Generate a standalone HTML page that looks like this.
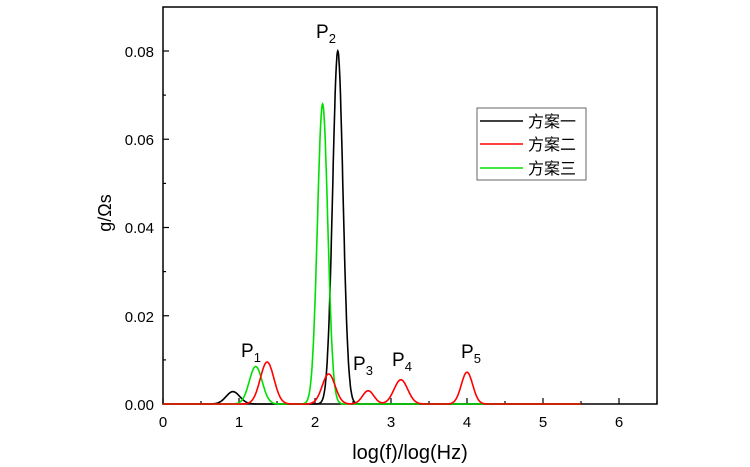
<!DOCTYPE html>
<html><head><meta charset="utf-8"><style>
body{margin:0;background:#fff}
svg{display:block}
text{font-family:"Liberation Sans",sans-serif;fill:#000}
</style></head><body>
<svg id="s" width="750" height="467" xmlns="http://www.w3.org/2000/svg">
<rect x="163" y="7" width="494" height="397" fill="none" stroke="#000" stroke-width="1.5"/>
<g stroke="#000" stroke-width="1.2">
<line x1="163" y1="404" x2="169" y2="404"/><line x1="163" y1="315.75" x2="169" y2="315.75"/>
<line x1="163" y1="227.5" x2="169" y2="227.5"/><line x1="163" y1="139.25" x2="169" y2="139.25"/>
<line x1="163" y1="51" x2="169" y2="51"/>
<line x1="163" y1="359.9" x2="166" y2="359.9"/><line x1="163" y1="271.6" x2="166" y2="271.6"/>
<line x1="163" y1="183.4" x2="166" y2="183.4"/><line x1="163" y1="95.1" x2="166" y2="95.1"/>
</g>
<g id="xt" stroke="#000" stroke-width="1.2"></g>
<g font-size="15" text-anchor="end">
<text x="154" y="410">0.00</text><text x="154" y="322">0.02</text><text x="154" y="233">0.04</text>
<text x="154" y="145">0.06</text><text x="154" y="57">0.08</text>
</g>
<g font-size="15" text-anchor="middle">
<text x="163" y="427">0</text><text x="239" y="427">1</text><text x="315" y="427">2</text>
<text x="391" y="427">3</text><text x="467" y="427">4</text><text x="543" y="427">5</text><text x="619" y="427">6</text>
</g>
<text x="410" y="459" font-size="20" text-anchor="middle">log(f)/log(Hz)</text>
<text transform="translate(111,213) rotate(-90)" font-size="18" text-anchor="middle">g/Ωs</text>
<g font-size="19">
<text x="241" y="357">P<tspan font-size="13" dy="5">1</tspan></text>
<text x="316" y="38">P<tspan font-size="13" dy="5">2</tspan></text>
<text x="353" y="370">P<tspan font-size="13" dy="5">3</tspan></text>
<text x="392" y="366">P<tspan font-size="13" dy="5">4</tspan></text>
<text x="461" y="358">P<tspan font-size="13" dy="5">5</tspan></text>
</g>
<path id="k" fill="none" stroke="#000" stroke-width="1.6"/>
<path id="g" fill="none" stroke="#00e000" stroke-width="1.6"/>
<path id="r" fill="none" stroke="#f00" stroke-width="1.6"/>
<rect x="477" y="108" width="109" height="72" fill="#fff" stroke="#666" stroke-width="1"/>
<line x1="480" y1="121" x2="523" y2="121" stroke="#000" stroke-width="1.6"/>
<line x1="480" y1="144" x2="523" y2="144" stroke="#f00" stroke-width="1.6"/>
<line x1="480" y1="168" x2="523" y2="168" stroke="#00e000" stroke-width="1.6"/>
<g font-size="16" style="font-family:'Noto Serif CJK SC',serif">
<text x="528" y="127">方案一</text><text x="528" y="150">方案二</text><text x="528" y="174">方案三</text>
</g>
</svg>
<script>
function X(v){return 163+76*v}function Y(v){return 404-4412.5*v}
function mk(id,pk){var d="";for(var x=0;x<=5.5;x+=0.005){var y=0;pk.forEach(function(p){y+=p[1]*Math.exp(-Math.pow((x-p[0])/p[2],2)/2)});d+=(d?"L":"M")+X(x).toFixed(1)+","+Y(y).toFixed(1)}document.getElementById(id).setAttribute("d",d)}
mk("k",[[0.92,0.0028,0.09],[2.3,0.080,0.068]]);
mk("g",[[1.22,0.0085,0.085],[2.1,0.068,0.068]]);
mk("r",[[1.37,0.0095,0.09],[2.18,0.0068,0.085],[2.7,0.003,0.075],[3.13,0.0055,0.09],[4.0,0.0072,0.075]]);
var g=document.getElementById("xt"),h="";
for(var i=0;i<=13;i++){var x=X(i*0.5),l=i%2?3:6;h+='<line x1="'+x+'" y1="404" x2="'+x+'" y2="'+(404-l)+'"/>'}
g.innerHTML=h;
</script>
</body></html>
